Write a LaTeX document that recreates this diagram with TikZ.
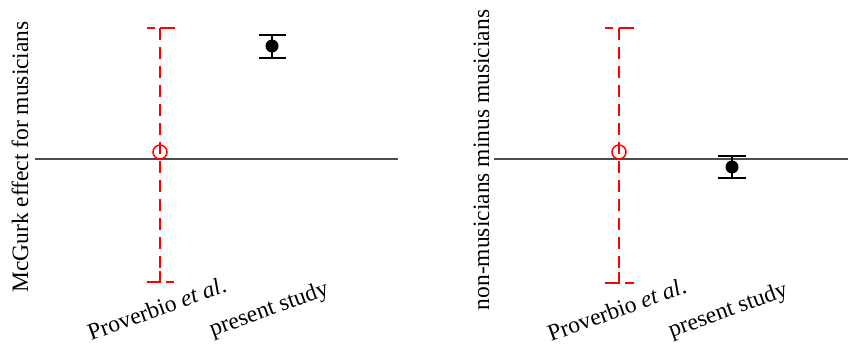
\documentclass[tikz,border=0pt]{standalone}
\usepackage{fontspec}
\setmainfont{Liberation Serif}
\begin{document}
\begin{tikzpicture}[x=1pt,y=-1pt,
  axisline/.style={draw=black!70,line width=1.5pt},
  redbar/.style={draw=red,line width=2pt,dash pattern=on 12pt off 7pt},
  redcap/.style={draw=red,line width=2pt},
  blackbar/.style={draw=black,line width=2.4pt},
  lbl/.style={font=\fontsize{23.5}{28}\selectfont,inner sep=0pt},
  xlbl/.style={lbl,rotate=20,anchor=base east},
  ylbl/.style={lbl,rotate=90,anchor=base}]
\useasboundingbox (0,0) rectangle (848,345);
% ---------- left panel ----------
\coordinate (la) at (35,159);
\coordinate (lb) at (398,159);
\draw[axisline] (la) -- (lb);
\coordinate (rt) at (160,28);
\coordinate (rb) at (160,282);
\draw[redbar] (rt) -- (rb);
\draw[redcap] (147,28) -- (155,28) (160,28) -- (175,28) (160,28) -- (160,39);
\draw[redcap] (147,282) -- (160,282) -- (160,271) (166,282) -- (174,282);
\node[circle,draw=red,line width=1.5pt,minimum size=14pt,inner sep=0pt] (lc) at (160,152) {};
\coordinate (bt) at (272,35);
\coordinate (bb) at (272,58);
\draw[blackbar] (bt) -- (bb) (259,35) -- (286,35) (259,58) -- (286,58);
\node[circle,fill=black,minimum size=13pt,inner sep=0pt] (ld) at (272,46) {};
\node[ylbl] (ly) at (28,157) {McGurk effect for musicians};
\node[xlbl] (lx1) at (228,291) {Proverbio \textit{et al}.};
\node[xlbl] (lx2) at (330,294) {present study};
% ---------- right panel ----------
\coordinate (ra) at (494,159);
\coordinate (rbb) at (848,159);
\draw[axisline] (ra) -- (rbb);
\coordinate (rt2) at (619,28);
\coordinate (rb2) at (619,283);
\draw[redbar] (rt2) -- (rb2);
\draw[redcap] (605,28) -- (613,28) (619,28) -- (634,28) (619,28) -- (619,39);
\draw[redcap] (605,283) -- (619,283) -- (619,272) (625,283) -- (634,283);
\node[circle,draw=red,line width=1.5pt,minimum size=14pt,inner sep=0pt] (rc) at (619,152) {};
\coordinate (bt2) at (732,156);
\coordinate (bb2) at (732,178);
\draw[blackbar] (bt2) -- (bb2) (718,156) -- (746,156) (718,178) -- (746,178);
\node[circle,fill=black,minimum size=13pt,inner sep=0pt] (rd) at (732,167) {};
\node[ylbl] (ry) at (489,160) {non-musicians minus musicians};
\node[xlbl] (rx1) at (688,292) {Proverbio \textit{et al}.};
\node[xlbl] (rx2) at (789,295) {present study};
\end{tikzpicture}
\end{document}
